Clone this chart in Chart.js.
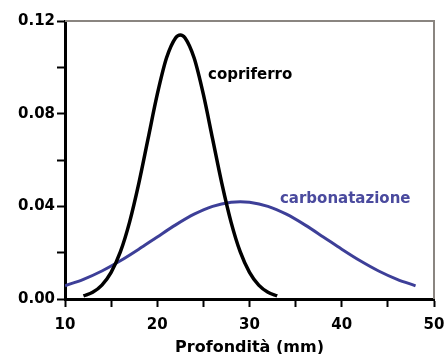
<!DOCTYPE html>
<html>
<head>
<meta charset="utf-8">
<script src="https://cdn.jsdelivr.net/npm/chart.js@4/dist/chart.umd.min.js"></script>
<style>
  html, body { margin: 0; padding: 0; background: #fff; }
  #wrap { width: 446px; height: 354px; }
</style>
</head>
<body>
<div id="wrap"><canvas id="chart" width="446" height="354"></canvas></div>
<script>
// curve "copriferro" (mm, frequenza)
var depthCopriferro = [12, 13, 14, 15, 16, 17, 18, 19, 20, 21, 22, 22.5, 23, 24, 25, 26, 27, 28, 29, 30, 31, 32, 33];
var valCopriferro = [0.0013, 0.0029, 0.0060, 0.0115, 0.0203, 0.0332, 0.0499, 0.0691, 0.0883, 0.1040, 0.1128, 0.1140,
                     0.1128, 0.1040, 0.0883, 0.0691, 0.0499, 0.0332, 0.0203, 0.0115, 0.0060, 0.0029, 0.0013];

// curve "carbonatazione"
var depthCarbonatazione = [10, 12, 14, 16, 18, 20, 22, 24, 26, 28, 29, 30, 32, 34, 36, 38, 40, 42, 44, 46, 48];
var valCarbonatazione = [0.0057, 0.0085, 0.0121, 0.0165, 0.0215, 0.0268, 0.0320, 0.0366, 0.0400, 0.0418, 0.0420,
                         0.0418, 0.0400, 0.0366, 0.0320, 0.0268, 0.0215, 0.0165, 0.0121, 0.0085, 0.0057];

var xTicksMajor = [10, 20, 30, 40, 50];
var yTicksMajor = [0, 0.04, 0.08, 0.12];

var FONT = 'DejaVu Sans';
var BLUE = '#3d3f98';

function toPoints(xs, ys) {
  return xs.map(function (x, i) { return { x: x, y: ys[i] }; });
}

var framePlugin = {
  id: 'frame',
  afterDraw: function (chart) {
    var a = chart.chartArea, ctx = chart.ctx;
    ctx.save();
    ctx.strokeStyle = '#8a8580';
    ctx.lineWidth = 2;
    ctx.beginPath();
    ctx.moveTo(a.left, a.top);
    ctx.lineTo(a.right, a.top);
    ctx.lineTo(a.right, a.bottom);
    ctx.stroke();

    var xs = chart.scales.x, ys = chart.scales.y;
    ctx.font = 'bold 15px "' + FONT + '"';
    ctx.textBaseline = 'alphabetic';
    ctx.textAlign = 'left';
    ctx.fillStyle = '#000';
    ctx.fillText('copriferro', xs.getPixelForValue(25.5), ys.getPixelForValue(0.0951));
    ctx.fillStyle = '#4a4a9e';
    ctx.fillText('carbonatazione', xs.getPixelForValue(33.3), ys.getPixelForValue(0.0415));
    ctx.restore();
  }
};

var ctx = document.getElementById('chart').getContext('2d');
var chart = new Chart(ctx, {
  type: 'line',
  data: {
    datasets: [{
      label: 'copriferro',
      data: toPoints(depthCopriferro, valCopriferro),
      borderColor: '#000',
      borderWidth: 3.5,
      pointRadius: 0,
      fill: false,
      cubicInterpolationMode: 'monotone'
    }, {
      label: 'carbonatazione',
      data: toPoints(depthCarbonatazione, valCarbonatazione),
      borderColor: BLUE,
      borderWidth: 3,
      pointRadius: 0,
      fill: false,
      cubicInterpolationMode: 'monotone'
    }]
  },
  options: {
    responsive: false,
    animation: false,
    layout: { padding: { top: 21, right: 12, left: 0, bottom: 0 } },
    plugins: {
      legend: { display: false },
      tooltip: { enabled: false }
    },
    scales: {
      x: {
        type: 'linear',
        min: 10,
        max: 50,
        afterFit: function (s) { s.height = 55; s.paddingRight = 12; s.paddingLeft = 0; },
        border: { color: '#000', width: 3 },
        grid: { drawOnChartArea: false, tickLength: 8, tickColor: '#000', tickWidth: 2 },
        ticks: {
          stepSize: 5,
          color: '#000',
          padding: 9,
          maxRotation: 0,
          font: { family: FONT, size: 15, weight: 'bold' },
          callback: function (v) { return xTicksMajor.indexOf(v) >= 0 ? String(v) : ''; }
        },
        title: {
          display: true,
          text: 'Profondità (mm)',
          color: '#000',
          padding: { top: 0, bottom: -3 },
          font: { family: FONT, size: 16, weight: 'bold' }
        }
      },
      y: {
        min: 0,
        max: 0.12,
        afterFit: function (s) { s.width = 65; },
        border: { color: '#000', width: 3 },
        grid: { drawOnChartArea: false, tickLength: 8, tickColor: '#000', tickWidth: 2 },
        ticks: {
          stepSize: 0.02,
          color: '#000',
          padding: 2,
          font: { family: FONT, size: 15, weight: 'bold' },
          callback: function (v) {
            var r = Math.round(v * 100) / 100;
            return yTicksMajor.indexOf(r) >= 0 ? r.toFixed(2) : '';
          }
        }
      }
    }
  },
  plugins: [framePlugin]
});
</script>
</body>
</html>
